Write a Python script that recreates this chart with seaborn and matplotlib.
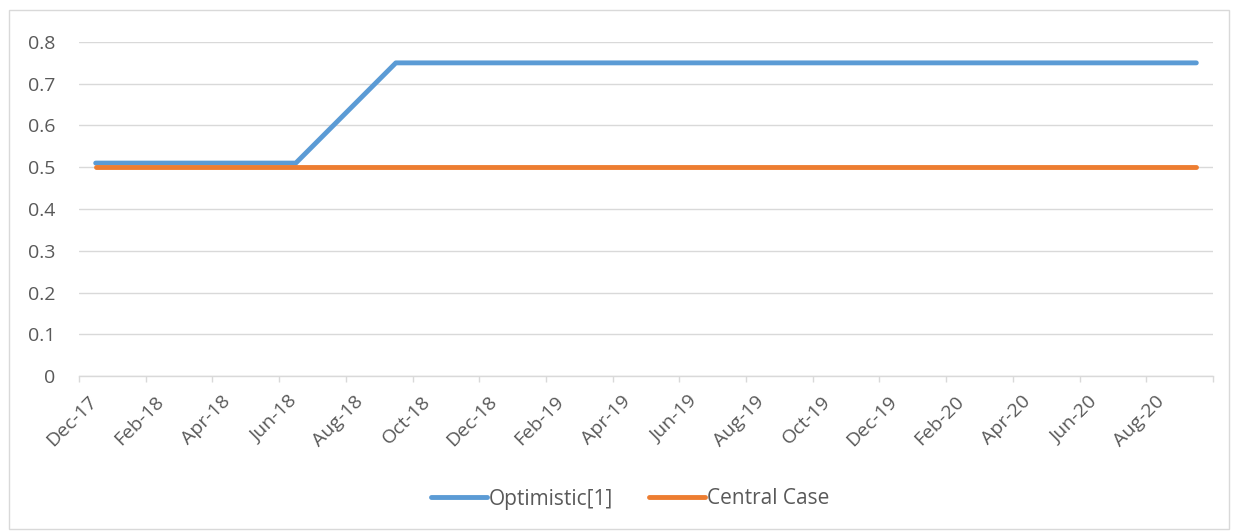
import matplotlib
matplotlib.use("Agg")
import matplotlib.pyplot as plt
import matplotlib.transforms as mtransforms
import seaborn as sns
import pandas as pd
import numpy as np
from matplotlib.patches import Rectangle
from matplotlib.lines import Line2D

# Monthly data, Dec-17 .. Sep-20
months = ["Dec-17", "Jan-18", "Feb-18", "Mar-18", "Apr-18", "May-18", "Jun-18", "Jul-18",
          "Aug-18", "Sep-18", "Oct-18", "Nov-18", "Dec-18", "Jan-19", "Feb-19", "Mar-19",
          "Apr-19", "May-19", "Jun-19", "Jul-19", "Aug-19", "Sep-19", "Oct-19", "Nov-19",
          "Dec-19", "Jan-20", "Feb-20", "Mar-20", "Apr-20", "May-20", "Jun-20", "Jul-20",
          "Aug-20", "Sep-20"]
optimistic = [0.51, 0.51, 0.51, 0.51, 0.51, 0.51, 0.51, 0.59,
              0.67, 0.75, 0.75, 0.75, 0.75, 0.75, 0.75, 0.75,
              0.75, 0.75, 0.75, 0.75, 0.75, 0.75, 0.75, 0.75,
              0.75, 0.75, 0.75, 0.75, 0.75, 0.75, 0.75, 0.75,
              0.75, 0.75]
central = [0.5] * 34
tick_labels = ["Dec-17", "Feb-18", "Apr-18", "Jun-18", "Aug-18", "Oct-18", "Dec-18",
               "Feb-19", "Apr-19", "Jun-19", "Aug-19", "Oct-19", "Dec-19", "Feb-20",
               "Apr-20", "Jun-20", "Aug-20"]
series_names = ["Optimistic[1]", "Central Case"]
colors = ["#5B9BD5", "#ED7D31"]

sns.set_theme(style="white")
plt.rcParams["font.family"] = ["Open Sans", "DejaVu Sans"]

pos = np.arange(len(months)) + 0.5
df = pd.DataFrame({
    "pos": np.concatenate([pos, pos]),
    "value": optimistic + central,
    "series": [series_names[0]] * len(months) + [series_names[1]] * len(months),
})

W, H = 1237, 531
fig = plt.figure(figsize=(W / 100, H / 100), dpi=100)
ax = fig.add_axes([79 / W, 1 - 376 / H, (1213 - 79) / W, (376 - 42) / H])

sns.lineplot(data=df, x="pos", y="value", hue="series", palette=colors, ax=ax,
             linewidth=3.5, legend=False, solid_capstyle="round")

ax.set_xlim(0, len(months))
ax.set_ylim(0, 0.8)
ax.set_yticks(np.arange(0, 0.81, 0.1))
ax.set_yticklabels(["0"] + [f"{v:.1f}" for v in np.arange(0.1, 0.81, 0.1)])
ax.yaxis.grid(True, color="#D9D9D9", linewidth=1.0)
ax.xaxis.grid(False)
ax.set_axisbelow(True)

xt = list(range(0, len(months) + 1, 2))
ax.set_xticks(xt)
ax.set_xticklabels(tick_labels + [""], rotation=45, ha="right", va="center",
                   rotation_mode="anchor")
ax.tick_params(axis="x", which="both", bottom=True, length=4.5, width=1, color="#D9D9D9",
               labelsize=14, labelcolor="#595959", pad=12)
ax.tick_params(axis="y", length=0, labelsize=14, labelcolor="#595959", pad=17)
offset = mtransforms.ScaledTranslation(15 / 100, 0, fig.dpi_scale_trans)
for lab in ax.get_xticklabels():
    lab.set_transform(lab.get_transform() + offset)
for s in ["top", "right", "left"]:
    ax.spines[s].set_visible(False)
ax.spines["bottom"].set_color("#D9D9D9")
ax.spines["bottom"].set_linewidth(1.0)
ax.set_xlabel("")
ax.set_ylabel("")

handles = [Line2D([0], [0], color=c, lw=3.5, solid_capstyle="round") for c in colors]
fig.legend(handles, series_names, loc="center", bbox_to_anchor=(630 / W, 1 - 499 / H),
           ncol=2, frameon=False, fontsize=15, labelcolor="#595959",
           handlelength=2.7, handletextpad=0.1, columnspacing=1.7)

fig.patches.append(Rectangle((9 / W, 1 - 529 / H), (1229 - 9) / W, (529 - 10) / H,
                             transform=fig.transFigure, fill=False,
                             edgecolor="#D9D9D9", linewidth=1.0))

fig.savefig("out.png", dpi=100)
